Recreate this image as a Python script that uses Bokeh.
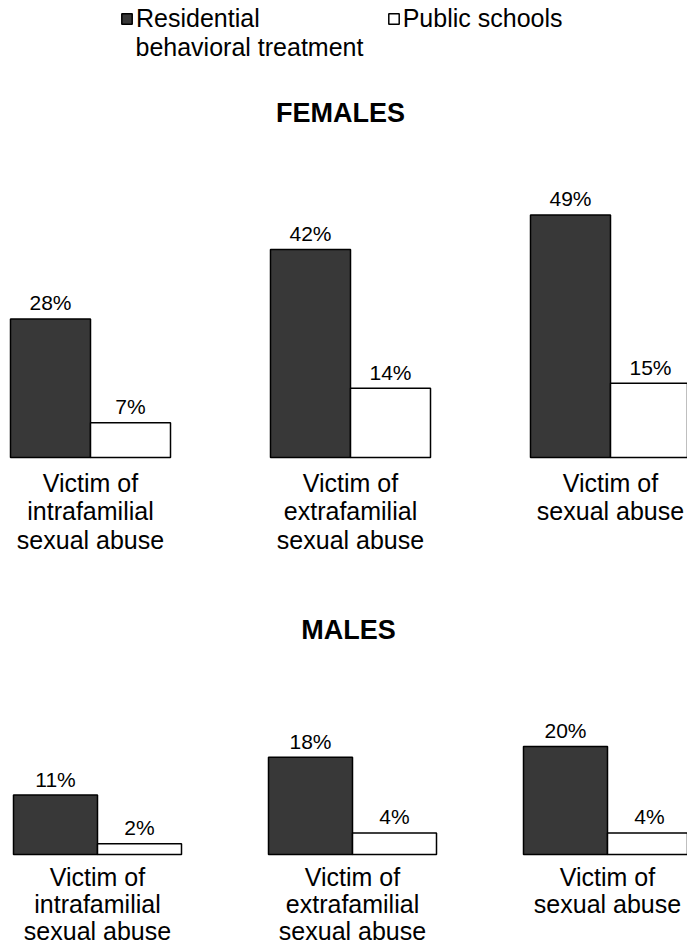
import numpy as np
from bokeh.plotting import figure
from bokeh.models import Range1d, ColumnDataSource, Label, Legend, LegendItem
from bokeh.embed import file_html
from bokeh.resources import INLINE
from bokeh.core.properties import value

# ---- data ----
categories = ["Victim of\nintrafamilial\nsexual abuse",
              "Victim of\nextrafamilial\nsexual abuse",
              "Victim of\nsexual abuse"]
female_residential = [28, 42, 49]
female_public = [7, 14, 15]
male_residential = [11, 18, 20]
male_public = [2, 4, 4]
series_names = ["Residential", "Public schools"]
series_name_extra = "behavioral treatment"
panel_titles = ["FEMALES", "MALES"]

# ---- style ----
W, H = 687, 949
FONT = "Liberation Sans"
DARK = "#383838"

# panel geometry (px per group / px per percent / baseline offset from bottom / first centre / bar width)
F_GAP, F_PX, F_BASE, F_X0, F_BW = 260.0, 4.95, 492.0, 90.0, 80.0
M_GAP, M_PX, M_BASE, M_X0, M_BW = 255.0, 5.4, 95.0, 97.0, 84.0

p = figure(width=W, height=H, output_backend="svg", toolbar_location=None,
           x_range=Range1d(-F_X0 / F_GAP, -F_X0 / F_GAP + W / F_GAP),
           y_range=Range1d(-F_BASE / F_PX, -F_BASE / F_PX + H / F_PX),
           x_axis_location=None, y_axis_location=None,
           min_border=0, min_border_left=0, min_border_right=0,
           min_border_top=0, min_border_bottom=0)
p.grid.visible = False
p.outline_line_color = None
p.background_fill_color = "white"
p.border_fill_color = "white"
p.extra_x_ranges = {"mx": Range1d(-M_X0 / M_GAP, -M_X0 / M_GAP + W / M_GAP)}
p.extra_y_ranges = {"my": Range1d(-M_BASE / M_PX, -M_BASE / M_PX + H / M_PX)}


def panel(res, pub, xr, yr, w, cat_off, cat_lh):
    idx = np.arange(len(categories), dtype=float)
    src = ColumnDataSource(dict(
        x_res=idx - w / 2, x_pub=idx + w / 2, cx=idx,
        res=res, pub=pub, cat=categories,
        res_lab=[f"{v}%" for v in res], pub_lab=[f"{v}%" for v in pub],
        zero=[0] * len(res)))
    kw = dict(source=src, x_range_name=xr, y_range_name=yr)
    r1 = p.vbar(x="x_res", top="res", bottom=0, width=w, fill_color=DARK,
                line_color="black", line_width=1.5, **kw)
    r2 = p.vbar(x="x_pub", top="pub", bottom=0, width=w, fill_color="white",
                line_color="black", line_width=1.5, **kw)
    for xc, yc, lab in (("x_res", "res", "res_lab"), ("x_pub", "pub", "pub_lab")):
        p.text(x=xc, y=yc, text=lab, text_font=value(FONT), text_font_size="21px",
               text_align="center", text_baseline="alphabetic", y_offset=-16,
               text_color="black", **kw)
    p.text(x="cx", y="zero", text="cat", text_font=value(FONT), text_font_size="25px",
           text_align="center", text_baseline="top", y_offset=cat_off,
           text_line_height=cat_lh, text_color="black", **kw)
    return r1, r2


r1, r2 = panel(female_residential, female_public, "default", "default",
               F_BW / F_GAP, 11, 1.02)
panel(male_residential, male_public, "mx", "my", M_BW / M_GAP, 8, 0.98)

# titles
p.add_layout(Label(x=340, y=837, x_units="screen", y_units="screen", text=panel_titles[0],
                   text_font=FONT, text_font_size="27px", text_font_style="bold",
                   text_color="black", text_align="center", text_baseline="alphabetic"))
p.add_layout(Label(x=348, y=320, x_units="screen", y_units="screen", text=panel_titles[1],
                   text_font=FONT, text_font_size="27px", text_font_style="bold",
                   text_color="black", text_align="center", text_baseline="alphabetic"))

# legend
legend = Legend(items=[LegendItem(label=series_names[0], renderers=[r1]),
                       LegendItem(label=series_names[1], renderers=[r2])],
                orientation="horizontal", location=(120, 916),
                glyph_width=13, glyph_height=13, label_standoff=3, spacing=127,
                label_text_font=FONT, label_text_font_size="25px", label_text_color="black",
                background_fill_alpha=0, border_line_alpha=0, padding=0, margin=0)
p.add_layout(legend)
p.add_layout(Label(x=135, y=903, x_units="screen", y_units="screen", text=series_name_extra,
                   text_font=FONT, text_font_size="25px", text_align="left",
                   text_color="black", text_baseline="alphabetic"))

open("out.html", "w").write(file_html(p, INLINE))
